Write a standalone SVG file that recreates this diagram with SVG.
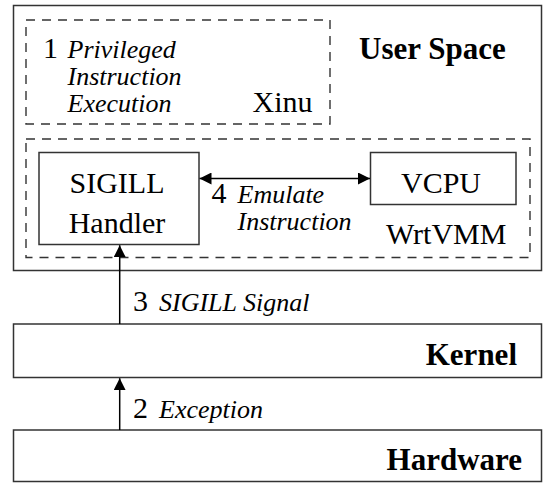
<svg xmlns="http://www.w3.org/2000/svg" width="544" height="483" viewBox="0 0 544 483">
<style>
.t{font-size:30px}
.b{font-size:31px;font-weight:bold}
.i{font-size:26px;font-style:italic}
.box{fill:#fff;stroke:#333;stroke-width:1.5}
.dash{fill:none;stroke:#333;stroke-width:1.4;stroke-dasharray:9 7}
.c{stroke:#000;stroke-width:1.5;fill:none}
</style>
<defs>
<marker id="ah" viewBox="0 0 12 12" refX="12" refY="6" markerWidth="12" markerHeight="12" markerUnits="userSpaceOnUse" orient="auto-start-reverse">
<path d="M0,0 L12,6 L0,12 Z" fill="#000"/>
</marker>
</defs>
<rect x="0" y="0" width="544" height="483" fill="#fff"/>
<g font-family="'Liberation Serif', 'Times New Roman', 'DejaVu Serif', serif" fill="#000">
<g id="userspace">
<rect class="box" x="13.5" y="5.5" width="528" height="265"/>
<text class="b" x="359" y="58.5">User Space</text>
</g>
<g id="xinu">
<rect class="dash" x="26" y="20" width="304" height="104"/>
<text class="t" x="43" y="57.5">1</text>
<text class="i" x="67.5" y="57.5">Privileged</text>
<text class="i" x="67.5" y="85">Instruction</text>
<text class="i" x="67.5" y="111.5">Execution</text>
<text class="t" x="252.5" y="111.5">Xinu</text>
</g>
<g id="wrtvmm">
<rect class="dash" x="26" y="139" width="504" height="118.5"/>
<text class="t" x="386" y="243.5">WrtVMM</text>
</g>
<g id="sigill">
<rect class="box" x="39" y="152.5" width="160" height="92"/>
<text class="t" x="117" y="192.7" text-anchor="middle">SIGILL</text>
<text class="t" x="117" y="233.3" text-anchor="middle">Handler</text>
</g>
<g id="vcpu">
<rect class="box" x="370.5" y="152.5" width="145.5" height="52"/>
<text class="t" x="441" y="192.7" text-anchor="middle">VCPU</text>
</g>
<g id="kernel">
<rect class="box" x="13.5" y="324" width="528" height="53.5"/>
<text class="b" x="517" y="365" text-anchor="end">Kernel</text>
</g>
<g id="hardware">
<rect class="box" x="13.5" y="430" width="528" height="51.5"/>
<text class="b" x="522" y="470" text-anchor="end">Hardware</text>
</g>
<g id="connectors">
<line class="c" x1="199.5" y1="178.5" x2="370" y2="178.5" marker-start="url(#ah)" marker-end="url(#ah)"/>
<line class="c" x1="119.7" y1="324" x2="119.7" y2="245.2" marker-end="url(#ah)"/>
<line class="c" x1="119.7" y1="430" x2="119.7" y2="378.2" marker-end="url(#ah)"/>
<text class="t" x="211.5" y="203.3">4</text>
<text class="i" x="237.5" y="203.3">Emulate</text>
<text class="i" x="237.5" y="230">Instruction</text>
<text class="t" x="133" y="310.7">3</text>
<text class="i" x="159" y="310.7">SIGILL Signal</text>
<text class="t" x="133" y="417.7">2</text>
<text class="i" x="159" y="417.7">Exception</text>
</g>
</g>
</svg>
